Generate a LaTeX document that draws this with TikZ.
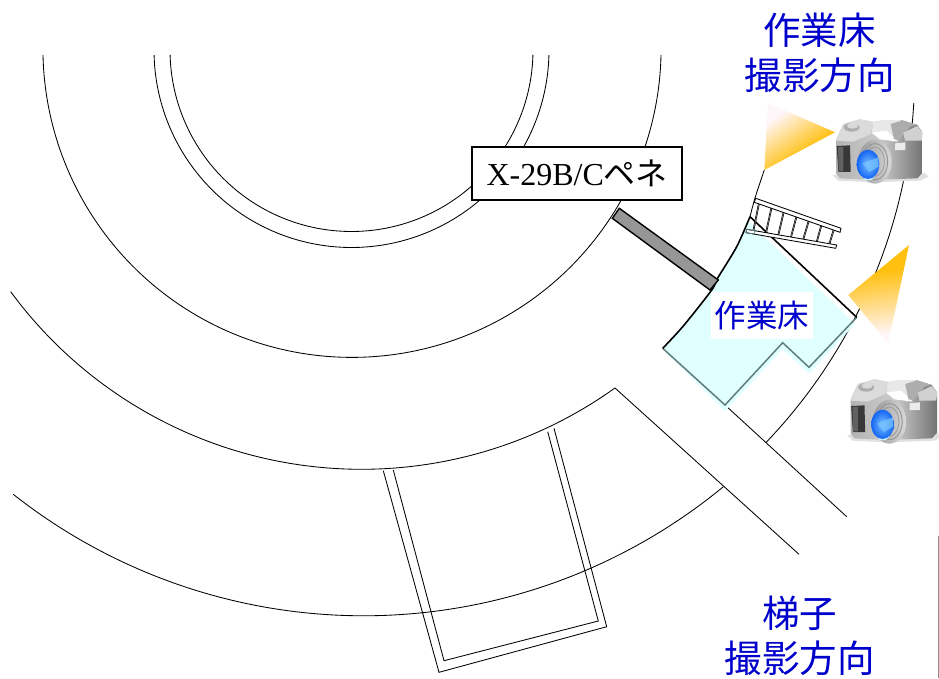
\documentclass[tikz,border=0pt]{standalone}
\usepackage{fontspec}
\setmainfont{Liberation Serif}
\newfontfamily\cjk{Noto Sans CJK JP}
\definecolor{lblue}{RGB}{0,0,204}
\definecolor{floorfill}{RGB}{224,255,255}
\definecolor{flooredge}{RGB}{95,125,125}
\definecolor{amber}{RGB}{255,192,16}
\definecolor{palepink}{RGB}{255,246,250}
\definecolor{lensblue}{RGB}{20,100,245}
\definecolor{lenslight}{RGB}{120,195,255}
\pgfdeclareverticalshading{fadeamber}{100bp}{color(0bp)=(palepink);color(28bp)=(palepink);color(62bp)=(amber);color(100bp)=(amber)}
\tikzset{
  thinline/.style={draw=black,line width=0.85pt},
  heavyline/.style={draw=black,line width=1.6pt},
  tealline/.style={draw=flooredge,line width=1.5pt},
  bluelabel/.style={text=lblue,font=\cjk,inner sep=0pt,align=center},
}
\newcommand\ringarc[5]{\draw[thinline] plot[domain=#4:#5,samples=140] ({#1+#3*cos(\x)},{#2+#3*sin(\x)});}
\newcommand\cameraicon[2]{%
\begin{scope}[shift={(#1,#2)},x=0.3333pt,y=-0.3333pt]
  \fill[black!12] (8,195) -- (285,190) -- (296,200) -- (270,212) -- (130,217) -- (25,212) -- cycle;
  \shade[left color=black!30,right color=black!55,middle color=black!20]
    (18,90) -- (40,42) -- (90,28) -- (130,36) -- (165,30) -- (215,30) -- (262,45) -- (278,68) -- (278,188) -- (262,205) -- (125,210) -- (30,205) -- (18,190) -- cycle;
  \fill[black!14] (18,92) -- (40,42) -- (90,28) -- (130,36) -- (122,72) -- (70,95) -- cycle;
  \fill[black!9] (130,36) -- (165,30) -- (215,30) -- (190,95) -- (125,70) -- cycle;
  \fill[white] (125,68) -- (170,62) -- (205,95) -- (150,88) -- cycle;
  \fill[black!32] (182,42) -- (215,32) -- (262,45) -- (240,50) -- (208,90) -- (192,88) -- cycle;
  \fill[black!18] (220,68) -- (262,48) -- (278,68) -- (275,92) -- (225,92) -- cycle;
  \fill[black!32] (65,52) ellipse [x radius=24,y radius=13];
  \fill[black!15] (68,47) ellipse [x radius=17,y radius=9];
  \fill[black!8] (195,100) -- (226,97) -- (226,120) -- (195,120) -- cycle;
  \fill[black!78] (20,108) -- (60,106) -- (62,186) -- (25,186) -- cycle;
  \fill[black!62] (24,112) -- (40,110) -- (40,184) -- (26,184) -- cycle;
  \shade[left color=black!40,right color=black!15] (135,155) ellipse [x radius=50,y radius=66];
  \draw[black!42,line width=0.9pt] (135,155) ellipse [x radius=38,y radius=54];
  \draw[black!38,line width=0.9pt] (135,155) ellipse [x radius=28,y radius=44];
  \fill[white!80!cyan] (115,200) ellipse [x radius=18,y radius=11];
  \shade[inner color=lenslight,outer color=lensblue] (114,163) ellipse [x radius=34,y radius=44];
  \fill[lenslight,opacity=0.75] (98,160) -- (145,142) -- (146,170) -- (118,186) -- cycle;
\end{scope}}
\begin{document}
\begin{tikzpicture}[x=1pt,y=-1pt]
\useasboundingbox (0,0) rectangle (939,678);
\fill[white] (0,0) rectangle (939,678);
% rings
\ringarc{351.5}{50}{181.5}{1.5}{178.5}
\ringarc{351.5}{50}{197.5}{1.5}{178.5}
\ringarc{352}{48.3}{309.1}{1.2}{178.8}
\ringarc{361.6}{33.8}{435.5}{54.4}{143.7}
\ringarc{363.6}{49.8}{566}{50.53}{128.24}
\ringarc{378.7}{72}{536}{3.3}{43.75}
% bottom double frame
\coordinate (o1) at (383.3,470.7); \coordinate (o2) at (439,672.3); \coordinate (o3) at (606.7,626.7); \coordinate (o4) at (554,428.3);
\coordinate (i1) at (393.3,470); \coordinate (i2) at (444,660.7); \coordinate (i3) at (598.3,621); \coordinate (i4) at (547.7,431.7);
\draw[thinline] (o1) -- (o2) -- (o3) -- (o4);
\draw[thinline] (i1) -- (i2) -- (i3) -- (i4);
% road lines
\coordinate (r1) at (615,388); \coordinate (r2) at (799,554.3);
\coordinate (r3) at (725,405); \coordinate (r4) at (846.7,516.7);
\draw[thinline] (r1) -- (r2);
\draw[thinline] (r3) -- (r4);
% floor
\fill[floorfill] plot[smooth] coordinates {(662.7,349) (683.3,327) (711.7,290) (717.7,278) (736.7,246.7) (748,221)} -- (855,324) -- (809,373.5) -- (782.7,349) -- (725,411) -- cycle;
\draw[tealline] (662.7,348.3) -- (725,405) -- (782.7,342.7) -- (809,367.3) -- (856.7,317.3);
\draw[heavyline] plot[smooth] coordinates {(662.7,348.3) (683.3,326) (711.7,290) (717.7,278) (736.7,246.7) (750,216.7)};
\draw[thinline] plot[smooth] coordinates {(750,216.7) (755,198) (764.3,170)};
\draw[heavyline] (750,216.7) -- (856.7,317.3);
% gray bar
\draw[fill=black!41,line width=1.4pt] (619.3,208.3) -- (718.3,280) -- (710,290) -- (612.3,218.3) -- cycle;
% ladder
\foreach \ux/\uy/\lx/\ly in {759.3/201.7/753.3/231,771.7/206.7/766/233,784/210.7/778.3/235,796.7/215.7/791/237,809/220/803.3/239,821.7/224/816.7/242,834/229/829.3/244}{
  \draw[black,line width=1.7pt] (\ux,\uy) -- (\lx,\ly);
  \draw[white!70!black,line width=0.4pt] (\ux,\uy) -- (\lx,\ly);
}
\draw[fill=white,line width=0.85pt] (755.7,198.3) -- (841,228.3) -- (840,232.3) -- (754.3,202.3) -- cycle;
\draw[fill=white,line width=0.85pt] (746.7,229.3) -- (836.7,245) -- (835.7,248.3) -- (746,232.7) -- cycle;
\draw[flooredge,line width=0.8pt] (746.7,229.3) -- (755,230.8) -- (754.5,234) -- (746,232.7) -- cycle;
% triangles
\shade[shading=fadeamber,shading angle=-146]
  (768,103) -- (835,132.3) -- (764.3,170) -- cycle;
\shade[shading=fadeamber,shading angle=8]
  (909,245) -- (848.3,295) -- (888.3,343.3) -- cycle;
% cameras
\cameraicon{830}{110}
\cameraicon{844.5}{370}
% stray edge line
\draw[black!45,line width=0.9pt] (938.5,536) -- (938.5,678);
% labels
\node[draw=black,fill=white,line width=1.9pt,minimum width=210pt,minimum height=53pt,inner sep=0pt,font=\fontsize{32}{32}\selectfont] (pene) at (577.2,173.7) {X-29B/C{\cjk ペネ}};
\node[bluelabel,fill=white,minimum width=101.7pt,minimum height=46.4pt,font=\cjk\fontsize{31.5}{31.5}\selectfont] (floor) at (761.8,315.5) {作業床};
\node[bluelabel,font=\cjk\fontsize{37.5}{45}\selectfont] (top) at (819.5,53) {作業床\\撮影方向};
\node[bluelabel,font=\cjk\fontsize{37.5}{45}\selectfont] (bottom) at (799.5,636) {梯子\\撮影方向};
\end{tikzpicture}
\end{document}
